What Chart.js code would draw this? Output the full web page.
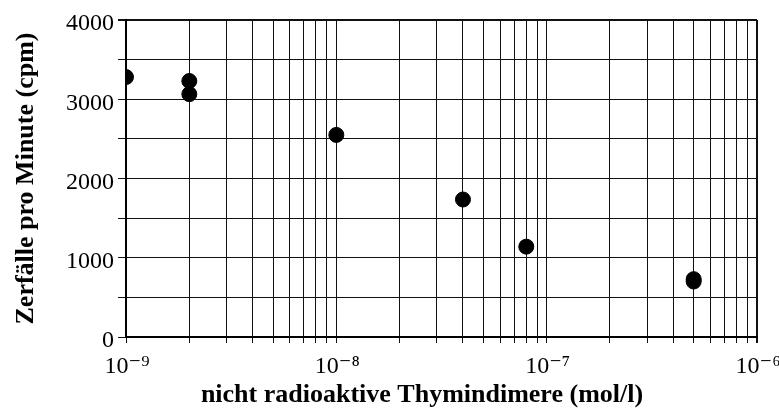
<!DOCTYPE html>
<html>
<head>
<meta charset="utf-8">
<script src="https://cdn.jsdelivr.net/npm/chart.js@4/dist/chart.umd.min.js"></script>
<style>
html,body{margin:0;padding:0;background:#fff;}
#wrap{width:779px;height:408px;}
</style>
</head>
<body>
<div id="wrap"><canvas id="c" width="779" height="408"></canvas></div>
<script>
// Data
const concentrations = [1e-9, 2e-9, 2e-9, 1e-8, 4e-8, 8e-8, 5e-7, 5e-7];
const countsPerMinute = [3280, 3230, 3065, 2550, 1735, 1140, 730, 700];

// Axis ticks
const xDecades = [1e-9, 1e-8, 1e-7, 1e-6];
const xDecadeLabels = ['10\u207B\u2079', '10\u207B\u2078', '10\u207B\u2077', '10\u207B\u2076'];
const xMinorMultipliers = [1, 2, 3, 4, 5, 6, 7, 8, 9];
const yTickValues = [0, 500, 1000, 1500, 2000, 2500, 3000, 3500, 4000];
const yLabelValues = [0, 1000, 2000, 3000, 4000];

const xTickValues = [];
xDecades.forEach((d, i) => {
  if (i < xDecades.length - 1) xMinorMultipliers.forEach(m => xTickValues.push(d * m));
  else xTickValues.push(d);
});

const points = concentrations.map((x, i) => ({x: x, y: countsPerMinute[i]}));
const serif = "'Liberation Serif', 'Times New Roman', 'DejaVu Serif', serif";

new Chart(document.getElementById('c'), {
  type: 'scatter',
  data: {
    datasets: [{
      data: points,
      backgroundColor: '#000',
      borderColor: '#000',
      pointRadius: 7.5,
      pointHoverRadius: 7.5
    }]
  },
  options: {
    responsive: false,
    animation: false,
    devicePixelRatio: 1,
    layout: {padding: {left: 0, top: 20, right: 22, bottom: 0}},
    plugins: {legend: {display: false}, tooltip: {enabled: false}},
    scales: {
      x: {
        type: 'logarithmic',
        min: 1e-9,
        max: 1e-6,
        afterBuildTicks: s => { s.ticks = xTickValues.map(v => ({value: v})); },
        afterFit: s => { s.height = 71; s.paddingLeft = 0; s.paddingRight = 0; },
        border: {display: true, color: '#000', width: 2},
        grid: {
          color: '#111',
          lineWidth: ctx => (ctx.tick && Math.abs(ctx.tick.value / 1e-6 - 1) < 1e-6) ? 2 : 1,
          tickLength: 6,
          drawTicks: true
        },
        ticks: {
          autoSkip: false,
          maxRotation: 0,
          padding: 9,
          labelOffset: 1,
          color: '#000',
          font: {family: serif, size: 24},
          callback: function(v) {
            const idx = xDecades.findIndex(d => Math.abs(v / d - 1) < 1e-6);
            return idx >= 0 ? xDecadeLabels[idx] : '';
          }
        },
        title: {
          display: true,
          text: 'nicht radioaktive Thymindimere (mol/l)      ',
          color: '#000',
          font: {family: serif, size: 26, weight: 'bold', lineHeight: 1},
          padding: {top: 0, bottom: 0}
        }
      },
      y: {
        min: 0,
        max: 4000,
        afterBuildTicks: s => { s.ticks = yTickValues.map(v => ({value: v})); },
        afterFit: s => { s.width = 126; },
        border: {display: true, color: '#000', width: 2},
        grid: {
          color: '#111',
          lineWidth: ctx => (ctx.tick && ctx.tick.value === 4000) ? 2 : 1,
          tickLength: 8,
          drawTicks: true
        },
        ticks: {
          autoSkip: false,
          padding: 4,
          labelOffset: 4,
          color: '#000',
          font: {family: serif, size: 24},
          callback: v => yLabelValues.includes(v) ? String(v) : ''
        },
        title: {
          display: true,
          text: 'Zerfälle pro Minute (cpm)',
          color: '#000',
          font: {family: serif, size: 26, weight: 'bold'},
          padding: {top: 11, bottom: 4}
        }
      }
    }
  }
});
</script>
</body>
</html>
